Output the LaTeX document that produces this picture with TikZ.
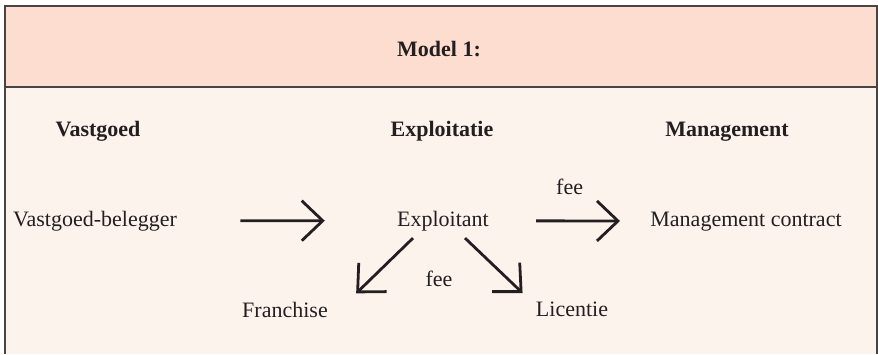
\documentclass[tikz,border=0pt]{standalone}
\usepackage{fontspec}
\setmainfont{Liberation Serif}
\usepackage{tikz}
\usetikzlibrary{arrows.meta}
\usepackage{xcolor}
\definecolor{headfill}{RGB}{253,221,207}
\definecolor{bodyfill}{RGB}{253,243,237}
\definecolor{framecol}{RGB}{70,68,68}
\definecolor{inkcol}{RGB}{35,31,32}

\begin{document}
\begin{tikzpicture}[->,>={Straight Barb[length=10.5pt,width=20pt]}, line width=1.4pt, x=0.5pt, y=-0.5pt,
  every node/.style={inner sep=0pt, anchor=base, font=\fontsize{11}{13}\selectfont, text=inkcol},
  head/.style={font=\fontsize{11}{13}\selectfont\bfseries}]
  \useasboundingbox (0,0) rectangle (878,354);
  % frame
  \fill[headfill] (5,6) rectangle (877,87);
  \fill[bodyfill] (5,87) rectangle (877,354);
  \draw[-, line width=0.6pt, framecol] (5,354) -- (5,6) -- (877,6) -- (877,354);
  \draw[-, line width=0.6pt, framecol] (5,87) -- (877,87);

  \node [head] (model) at (439,56) {Model 1:};
  \node [head] (vastgoed) at (98,136) {Vastgoed};
  \node [head] (exploitatie) at (442,136) {Exploitatie};
  \node [head] (management) at (727,136) {Management};

  \node (belegger) at (95,226) {Vastgoed-belegger};
  \node (exploitant) at (443,226) {Exploitant};
  \node (contract) at (746,226) {Management contract};
  \node (franchise) at (285,317) {Franchise};
  \node (licentie) at (572,316) {Licentie};
  \node (feemid) at (439,286) {fee};

  \path [inkcol] (belegger) edge [shorten <=31pt, shorten >=35.5pt] (exploitant);
  \path [inkcol] (exploitant) edge [shorten <=23pt, shorten >=14.5pt] node [above=12.5pt] {fee} (contract);

  \path [inkcol] ([xshift=-15pt,yshift=-3pt]exploitant.south) edge ([xshift=13.5pt,yshift=3.5pt]franchise.north east);
  \path [inkcol] ([xshift=11pt,yshift=-3pt]exploitant.south) edge ([xshift=-6pt,yshift=3.5pt]licentie.north west);
\end{tikzpicture}
\end{document}
